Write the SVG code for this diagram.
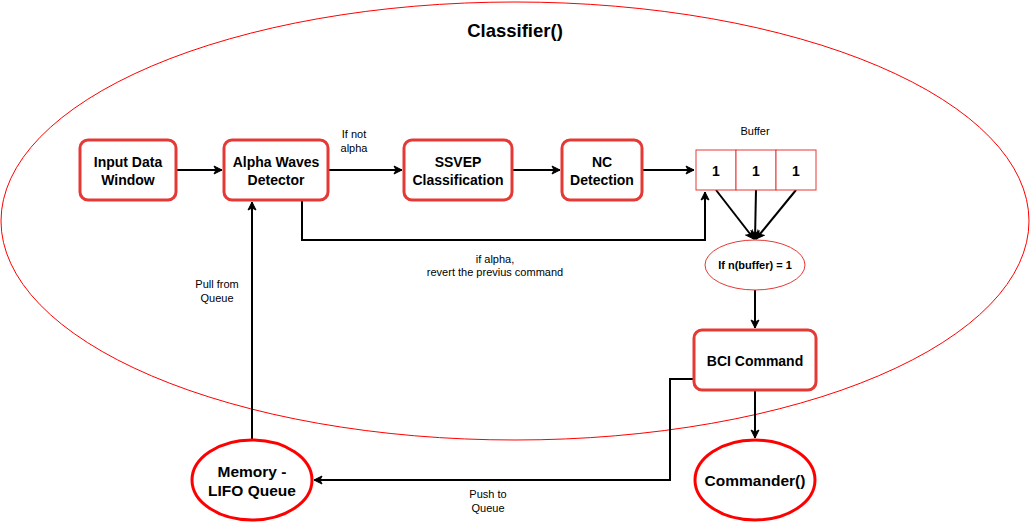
<svg xmlns="http://www.w3.org/2000/svg" width="1031" height="522" viewBox="0 0 1031 522">
<defs>
<marker id="arr" markerWidth="10" markerHeight="10" refX="9" refY="5" orient="auto" markerUnits="userSpaceOnUse">
<path d="M1,1 L9,5 L1,9 L3,5 Z" fill="#000" stroke="#000" stroke-width="1"/>
</marker>
<style>
.box{fill:#fff;stroke:#E53935;stroke-width:3}
.cell{fill:#fff;stroke:#E53935;stroke-width:1}
.ell{fill:#fff;stroke:#FF0000;stroke-width:3}
.thin{fill:#fff;stroke:#E53935;stroke-width:1}
.t{font-family:"Liberation Sans",Arial,sans-serif;font-weight:bold;font-size:14px;text-anchor:middle;fill:#000}
.s{font-family:"Liberation Sans",Arial,sans-serif;font-size:11px;text-anchor:middle;fill:#000}
.c{fill:none;stroke:#000;stroke-width:2}
</style>
</defs>
<rect width="1031" height="522" fill="#fff"/>
<g id="classifier">
<ellipse cx="515" cy="221" rx="514" ry="219" fill="none" stroke="#FF0000" stroke-width="1"/>
<text class="t" x="515" y="37" style="font-size:18.5px">Classifier()</text>
</g>
<g id="connectors">
<path class="c" d="M176,170 L222,170" marker-end="url(#arr)"/>
<path class="c" d="M328,170 L402,170" marker-end="url(#arr)"/>
<path class="c" d="M512,170 L560,170" marker-end="url(#arr)"/>
<path class="c" d="M642,170 L694,170" marker-end="url(#arr)"/>
<path class="c" d="M302,200 L302,240 L705,240 L705,192" marker-end="url(#arr)"/>
<path class="c" d="M716,190 L754,239" marker-end="url(#arr)"/>
<path class="c" d="M756,190 L755,239" marker-end="url(#arr)"/>
<path class="c" d="M796,190 L756,239" marker-end="url(#arr)"/>
<path class="c" d="M755,290 L755,328" marker-end="url(#arr)"/>
<path class="c" d="M755,390 L755,438" marker-end="url(#arr)"/>
<path class="c" d="M694,379 L670,379 L670,480 L314,480" marker-end="url(#arr)"/>
<path class="c" d="M252,440 L252,202" marker-end="url(#arr)"/>
<text class="s" x="354" y="138">If not</text>
<text class="s" x="354" y="152">alpha</text>
<text class="s" x="495" y="263">if alpha,</text>
<text class="s" x="495" y="276">revert the previus command</text>
<text class="s" x="217" y="288">Pull from</text>
<text class="s" x="217" y="302">Queue</text>
<text class="s" x="488" y="498">Push to</text>
<text class="s" x="488" y="512">Queue</text>
</g>
<g id="input">
<rect class="box" x="80" y="140" width="96" height="60" rx="8"/>
<text class="t" x="128" y="167">Input Data</text>
<text class="t" x="128" y="185">Window</text>
</g>
<g id="alpha">
<rect class="box" x="224" y="140" width="104" height="60" rx="8"/>
<text class="t" x="276" y="167">Alpha Waves</text>
<text class="t" x="276" y="185">Detector</text>
</g>
<g id="ssvep">
<rect class="box" x="404" y="140" width="108" height="60" rx="8"/>
<text class="t" x="458" y="167">SSVEP</text>
<text class="t" x="458" y="185">Classification</text>
</g>
<g id="nc">
<rect class="box" x="562" y="140" width="80" height="60" rx="8"/>
<text class="t" x="602" y="167">NC</text>
<text class="t" x="602" y="185">Detection</text>
</g>
<g id="buffer">
<text class="s" x="755" y="135">Buffer</text>
<rect class="cell" x="696" y="150" width="40" height="40"/>
<rect class="cell" x="736" y="150" width="40" height="40"/>
<rect class="cell" x="776" y="150" width="40" height="40"/>
<text class="t" x="716" y="176">1</text>
<text class="t" x="756" y="176">1</text>
<text class="t" x="796" y="176">1</text>
</g>
<g id="cond">
<ellipse class="thin" cx="755" cy="265" rx="50" ry="25"/>
<text class="t" x="755" y="269" style="font-size:11px">If n(buffer) = 1</text>
</g>
<g id="bci">
<rect class="box" x="694" y="330" width="122" height="60" rx="8"/>
<text class="t" x="755" y="366">BCI Command</text>
</g>
<g id="commander">
<ellipse class="ell" cx="755" cy="480" rx="60" ry="40"/>
<text class="t" x="755" y="486" style="font-size:15.5px">Commander()</text>
</g>
<g id="memory">
<ellipse class="ell" cx="252" cy="480" rx="60" ry="40"/>
<text class="t" x="252" y="477" style="font-size:15.5px">Memory -</text>
<text class="t" x="252" y="496" style="font-size:15.5px">LIFO Queue</text>
</g>
</svg>
